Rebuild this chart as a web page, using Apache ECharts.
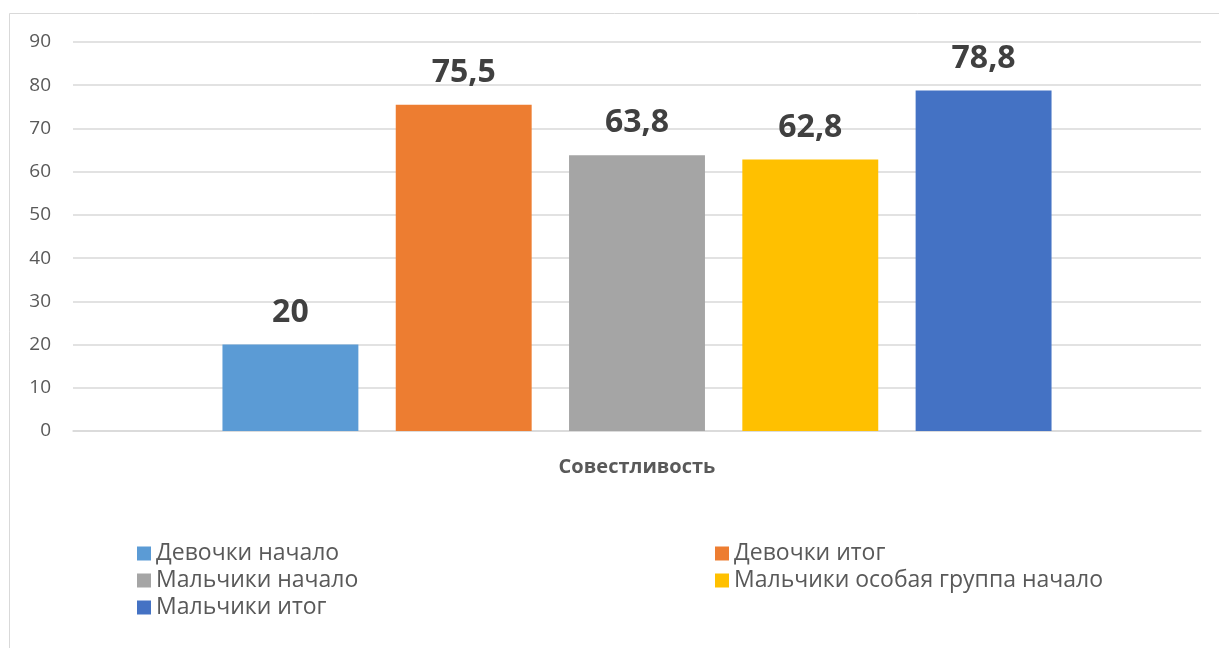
<!DOCTYPE html>
<html>
<head>
<meta charset="utf-8">
<script src="https://cdn.jsdelivr.net/npm/echarts@6/dist/echarts.min.js"></script>
<style>
html, body { margin: 0; padding: 0; background: #fff; }
#chart { width: 1219px; height: 648px; }
</style>
</head>
<body>
<div id="chart"></div>
<script>
const CATEGORIES = ['Совестливость']
const SERIES_NAMES = [
    'Девочки начало', 'Девочки итог', 'Мальчики начало',
    'Мальчики особая группа начало', 'Мальчики итог'
]
const SERIES_VALUES = [20, 75.5, 63.8, 62.8, 78.8]
const SERIES_COLORS = ['#5b9bd5', '#ed7d31', '#a5a5a5', '#ffc000', '#4472c4']

// legend placement: two columns, three rows
const LEGEND_POS = [
    [137, 542], [715, 542],
    [137, 569], [715, 569],
    [137, 596]
]

const FONT = '"Open Sans", "Noto Sans", sans-serif'

let series = []
let legends = []
for (let i = 0; i < SERIES_NAMES.length; i++) {
    series.push({
        name: SERIES_NAMES[i],
        type: 'bar',
        data: [SERIES_VALUES[i]],
        itemStyle: { color: SERIES_COLORS[i] },
        barGap: '27.5%',
        barCategoryGap: '26.5%',
        label: {
            show: true,
            position: 'top',
            distance: 16,
            color: '#404040',
            fontSize: 32,
            fontWeight: 'bold',
            fontFamily: FONT,
            formatter: (p) => String(p.value).replace('.', ',')
        }
    })
    legends.push({
        data: [SERIES_NAMES[i]],
        left: LEGEND_POS[i][0],
        top: LEGEND_POS[i][1],
        icon: 'rect',
        itemWidth: 14,
        itemHeight: 14,
        itemGap: 8,
        padding: 0,
        selectedMode: false,
        textStyle: { color: '#595959', fontSize: 23, fontFamily: FONT }
    })
}

let option = {
    animation: false,
    backgroundColor: '#fff',
    graphic: [{
        type: 'rect',
        shape: { x: 9.5, y: 13.5, width: 1230, height: 660 },
        style: { fill: null, stroke: '#d9d9d9', lineWidth: 1 },
        silent: true
    }],
    grid: { left: 73, right: 18, top: 42, bottom: 217 },
    legend: legends,
    xAxis: {
        type: 'category',
        data: CATEGORIES,
        axisLine: { lineStyle: { color: '#d9d9d9', width: 1.5 } },
        axisTick: { show: false },
        axisLabel: {
            color: '#595959',
            fontSize: 20,
            fontWeight: 'bold',
            fontFamily: FONT,
            margin: 26
        }
    },
    yAxis: {
        type: 'value',
        min: 0,
        max: 90,
        interval: 10,
        axisLine: { show: false },
        axisTick: { show: false },
        splitLine: { lineStyle: { color: '#d9d9d9', width: 1.5 } },
        axisLabel: {
            color: '#595959',
            fontSize: 19,
            fontFamily: FONT,
            margin: 22
        }
    },
    series: series
}

let chart = echarts.init(document.getElementById('chart'), null, { renderer: 'canvas' })
chart.setOption(option)
</script>
</body>
</html>
